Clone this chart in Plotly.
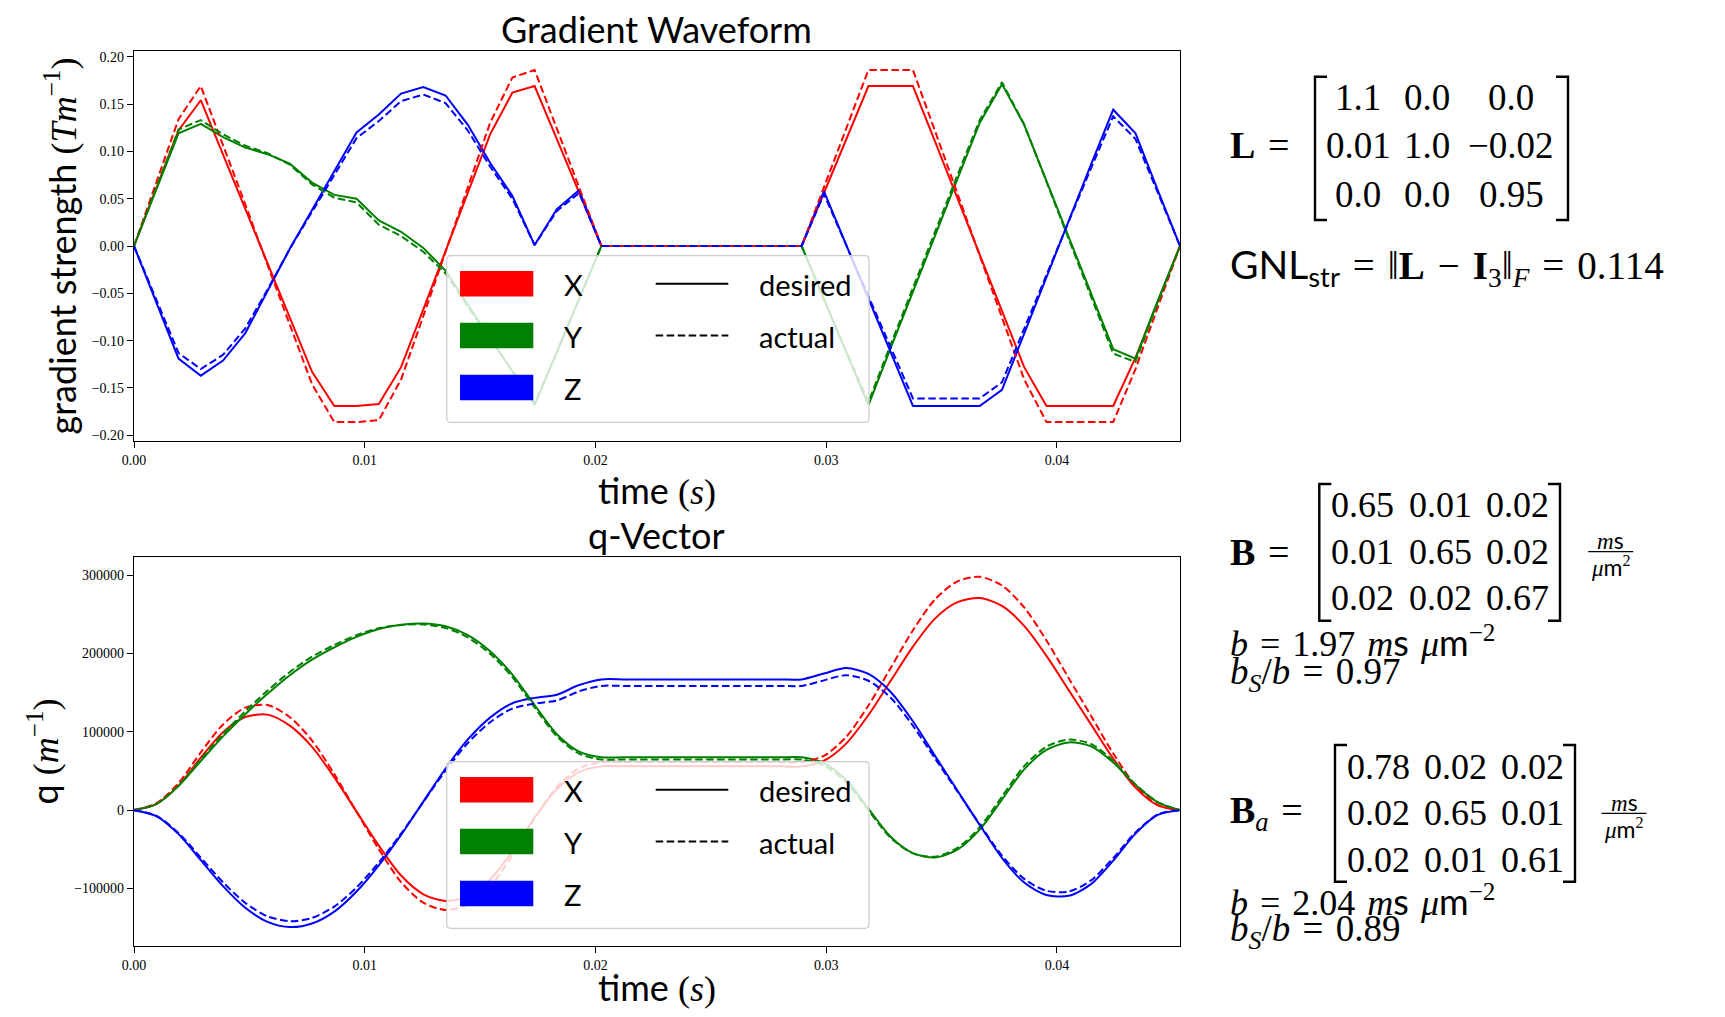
import plotly.graph_objects as go

# ---------------- data ----------------
t = [0.0, 0.000965, 0.001929, 0.002894, 0.003858, 0.004823, 0.005787, 0.006752,
     0.007716, 0.008681, 0.009645, 0.010610, 0.011574, 0.012539, 0.013503, 0.014468,
     0.015432, 0.016397, 0.017361, 0.018326, 0.019290, 0.020255, 0.021219, 0.022184,
     0.023148, 0.024113, 0.025077, 0.026042, 0.027006, 0.027971, 0.028935, 0.029900,
     0.030864, 0.031829, 0.032793, 0.033758, 0.034722, 0.035687, 0.036651, 0.037616,
     0.038580, 0.039545, 0.040509, 0.041474, 0.042438, 0.043403, 0.044367, 0.045332]

gx_desired = [0, 0.060, 0.122, 0.154, 0.097, 0.040, -0.018, -0.076, -0.133, -0.169, -0.169,
              -0.167, -0.128, -0.067, -0.005, 0.057, 0.118, 0.162, 0.169, 0.113, 0.056,
              0, 0, 0, 0, 0, 0, 0, 0, 0, 0,
              0.056, 0.113, 0.169, 0.169, 0.169, 0.110, 0.050, -0.009, -0.069, -0.128,
              -0.169, -0.169, -0.169, -0.169, -0.118, -0.058, 0]
gy_desired = [0, 0.059, 0.119, 0.129, 0.115, 0.104, 0.097, 0.087, 0.067, 0.054, 0.050,
              0.027, 0.015, -0.002, -0.026, -0.062, -0.097, -0.133, -0.168, -0.112, -0.056,
              0, 0, 0, 0, 0, 0, 0, 0, 0, 0,
              -0.056, -0.112, -0.168, -0.108, -0.049, 0.011, 0.071, 0.130, 0.171, 0.128,
              0.069, 0.010, -0.050, -0.109, -0.119, -0.058, 0]
gz_desired = [0, -0.059, -0.119, -0.137, -0.121, -0.092, -0.048, -0.003, 0.038, 0.079, 0.120,
              0.139, 0.161, 0.168, 0.159, 0.128, 0.088, 0.053, 0.001, 0.039, 0.059,
              0, 0, 0, 0, 0, 0, 0, 0, 0, 0,
              0.058, 0.001, -0.056, -0.112, -0.169, -0.169, -0.169, -0.169, -0.152, -0.092,
              -0.033, 0.027, 0.086, 0.144, 0.119, 0.059, 0]
gx_actual = [0, 0.066, 0.134, 0.169, 0.107, 0.044, -0.020, -0.084, -0.146, -0.186, -0.186,
             -0.184, -0.141, -0.074, -0.006, 0.063, 0.130, 0.178, 0.186, 0.124, 0.062,
             0, 0, 0, 0, 0, 0, 0, 0, 0, 0,
             0.062, 0.124, 0.186, 0.186, 0.186, 0.121, 0.055, -0.010, -0.076, -0.141,
             -0.186, -0.186, -0.186, -0.186, -0.130, -0.064, 0]
gy_actual = [0, 0.061, 0.123, 0.133, 0.118, 0.106, 0.098, 0.086, 0.065, 0.051, 0.046,
             0.0225, 0.0105, -0.006, -0.029, -0.064, -0.098, -0.1325, -0.166, -0.112, -0.057,
             0, 0, 0, 0, 0, 0, 0, 0, 0, 0,
             -0.057, -0.111, -0.165, -0.104, -0.044, 0.0155, 0.075, 0.133, 0.173, 0.1285,
             0.068, 0.008, -0.053, -0.1136, -0.1226, -0.060, 0]
gz_actual = [0, -0.056, -0.113, -0.130, -0.115, -0.087, -0.046, -0.003, 0.036, 0.075, 0.114,
             0.132, 0.153, 0.160, 0.151, 0.122, 0.084, 0.050, 0.001, 0.037, 0.056,
             0, 0, 0, 0, 0, 0, 0, 0, 0, 0,
             0.055, 0.001, -0.053, -0.106, -0.161, -0.161, -0.161, -0.161, -0.144, -0.087,
             -0.031, 0.026, 0.082, 0.137, 0.113, 0.056, 0]

qx_desired = [0, 7800, 31300, 67000, 99500, 119000, 122000, 107900, 80800, 41800, -1900,
              -45400, -83600, -107500, -116000, -110000, -88700, -52500, -9700, 26800, 48600,
              55900, 55900, 55900, 55900, 55900, 55900, 55900, 55900, 55900, 55900,
              63100, 85000, 121500, 165200, 208900, 245000, 265700, 271000, 260900, 235400,
              197000, 153300, 109600, 65800, 28700, 6000, 0]
qy_desired = [0, 7600, 30700, 62700, 94300, 122600, 148600, 172400, 192300, 208000, 221400,
              231400, 236800, 238500, 234900, 223500, 203000, 173200, 134300, 97000, 74800,
              67500, 67500, 67500, 67500, 67500, 67500, 67500, 67500, 67500, 67500,
              60000, 38500, 2000, -34000, -55000, -60500, -50500, -25000, 13500, 52000,
              77000, 86500, 81500, 61000, 32000, 10000, 0]
qz_desired = [0, -7600, -30700, -63800, -97100, -124700, -142800, -149400, -144900, -129700, -104000,
              -70500, -31700, 10900, 53200, 90300, 118200, 136500, 143400, 147500, 159800,
              167000, 167000, 167000, 167000, 167000, 167000, 167000, 167000, 167000, 167000,
              174500, 181500, 174000, 151000, 113500, 69000, 25000, -19000, -61000, -92500,
              -108500, -109500, -94500, -64500, -30000, -6000, 0]
qx_actual = [0, 8600, 34400, 73700, 109500, 130900, 134200, 118700, 88900, 46000, -2100,
             -49900, -92000, -118300, -127600, -121000, -97600, -57800, -10700, 29500, 53500,
             61500, 61500, 61500, 61500, 61500, 61500, 61500, 61500, 61500, 61500,
             69400, 93500, 133700, 181700, 229800, 269500, 292300, 298100, 287000, 258900,
             216700, 168600, 120600, 72400, 31600, 6600, 0]
qy_actual = [0, 7800, 31600, 64600, 97200, 126300, 152700, 176500, 196000, 211000, 223500,
             232400, 236600, 237200, 232700, 220600, 199700, 169900, 131300, 94300, 72100,
             64700, 64700, 64700, 64700, 64700, 64700, 64700, 64700, 64700, 64700,
             57100, 35700, -300, -35400, -55200, -59400, -48300, -21900, 17300, 56200,
             81100, 90200, 84500, 63000, 32900, 10200, 0]
qz_actual = [0, -7200, -29200, -60600, -92200, -118500, -135700, -141900, -137700, -123200, -98800,
             -67000, -30100, 10400, 50500, 85800, 112300, 129700, 136200, 140100, 151800,
             158700, 158700, 158700, 158700, 158700, 158700, 158700, 158700, 158700, 158700,
             165800, 172400, 165300, 143500, 107800, 65600, 23800, -18100, -58000, -87900,
             -103100, -104000, -89800, -61300, -28500, -5700, 0]

axis_names = ["X", "Y", "Z"]
axis_colors = ["red", "green", "blue"]
style_names = ["desired", "actual"]

L_matrix = [[1.1, 0.0, 0.0], [0.01, 1.0, -0.02], [0.0, 0.0, 0.95]]
GNL_value = 0.114
B_matrix = [[0.65, 0.01, 0.02], [0.01, 0.65, 0.02], [0.02, 0.02, 0.67]]
B_b, B_ratio = 1.97, 0.97
Ba_matrix = [[0.78, 0.02, 0.02], [0.02, 0.65, 0.01], [0.02, 0.01, 0.61]]
Ba_b, Ba_ratio = 2.04, 0.89

x_ticks = [0.0, 0.01, 0.02, 0.03, 0.04]

# ---------------- layout helpers ----------------
# The page body keeps the browser's default 8px margin, so the figure is made
# 16px smaller and every position below (given in window pixels) is shifted by 8.
OFF = 8
W, H = 1725 - 2 * OFF, 1017 - 2 * OFF
ML, MT = 134 - OFF, 51 - OFF
MR = W - (1180 - OFF)
MB = H - (946 - OFF)
PW = W - ML - MR
PH = H - MT - MB

SANS = "Lato"
SERIF = "Liberation Serif"
SP = "\u2004"  # slightly wider space, like TeX spacing around relations


def px(x):
    return (x - OFF - ML) / PW


def py(y):
    return (H - MB - (y - OFF)) / PH


TOP_AX = (51, 441)
BOT_AX = (557, 946)

fig = go.Figure()

top_des = [gx_desired, gy_desired, gz_desired]
top_act = [gx_actual, gy_actual, gz_actual]
bot_des = [qx_desired, qy_desired, qz_desired]
bot_act = [qx_actual, qy_actual, qz_actual]

DASH = "7.5px,3.5px"
for series, dash in ((top_des, "solid"), (top_act, DASH)):
    for name, col, ys in zip(axis_names, axis_colors, series):
        fig.add_trace(go.Scatter(x=t, y=ys, mode="lines", name=name,
                                 line=dict(color=col, width=2, dash=dash),
                                 showlegend=False, xaxis="x", yaxis="y"))
for series, dash in ((bot_des, "solid"), (bot_act, DASH)):
    for name, col, ys in zip(axis_names, axis_colors, series):
        fig.add_trace(go.Scatter(x=t, y=ys, mode="lines", name=name,
                                 line=dict(color=col, width=2, dash=dash, shape="spline", smoothing=0.8),
                                 showlegend=False, xaxis="x2", yaxis="y2"))

axis_common = dict(showline=True, linecolor="black", linewidth=1.2, mirror=True,
                   ticks="outside", ticklen=6, tickwidth=1.2, tickcolor="black",
                   showgrid=False, zeroline=False, automargin=False,
                   tickfont=dict(family=SERIF, size=14, color="black"))

title_font = dict(family=SANS, size=36, color="black")
xtitle = 'time <span style="font-family:Liberation Serif">(<i>s</i>)</span>'

fig.update_layout(
    width=W, height=H,
    margin=dict(l=ML, r=MR, t=MT, b=MB, pad=0, autoexpand=False),
    paper_bgcolor="white", plot_bgcolor="white",
    showlegend=False,
    font=dict(family=SANS, color="black"),
    xaxis=dict(axis_common, anchor="y", domain=[0, 1], range=[0, t[-1]],
               tickvals=x_ticks, tickformat=".2f",
               title=dict(text=xtitle, font=title_font, standoff=0)),
    yaxis=dict(axis_common, anchor="x", domain=[py(TOP_AX[1]), 1], range=[-0.206, 0.206],
               dtick=0.05, tick0=0, tickformat=".2f",
               title=dict(text='gradient strength <span style="font-family:Liberation Serif">(<i>Tm</i><sup>−1</sup>)</span>',
                          font=title_font, standoff=4)),
    xaxis2=dict(axis_common, anchor="y2", domain=[0, 1], range=[0, t[-1]],
                tickvals=x_ticks, tickformat=".2f",
                title=dict(text=xtitle, font=title_font, standoff=0)),
    yaxis2=dict(axis_common, anchor="x2", domain=[0, py(BOT_AX[0])], range=[-173600, 323400],
                dtick=100000, tick0=0, tickformat="d",
                title=dict(text='q <span style="font-family:Liberation Serif">(<i>m</i><sup>−1</sup>)</span>',
                           font=title_font, standoff=4)),
)

shapes = []
annotations = []


def ann(text, x, y, size, family=SERIF, xanchor="center", yanchor="middle"):
    annotations.append(dict(xref="paper", yref="paper", x=px(x), y=py(y), text=text,
                            showarrow=False, xanchor=xanchor, yanchor=yanchor,
                            font=dict(size=size, family=family, color="black")))


# subplot titles
ann("Gradient Waveform", 656, 29, 36, family=SANS)
ann("q-Vector", 656, 535, 36, family=SANS)


# manual legends
def legend_block(top):
    x0, x1 = 446.7, 869
    y0, y1 = top + 204.7, top + 371.3
    r = 4
    X0, X1, Y0, Y1 = px(x0), px(x1), py(y0), py(y1)
    rx, ry = r / PW, r / PH
    path = (f"M {X0+rx},{Y0} L {X1-rx},{Y0} Q {X1},{Y0} {X1},{Y0-ry} "
            f"L {X1},{Y1+ry} Q {X1},{Y1} {X1-rx},{Y1} L {X0+rx},{Y1} "
            f"Q {X0},{Y1} {X0},{Y1+ry} L {X0},{Y0-ry} Q {X0},{Y0} {X0+rx},{Y0} Z")
    shapes.append(dict(type="path", xref="paper", yref="paper", path=path, layer="above",
                       fillcolor="rgba(255,255,255,0.8)", line=dict(color="#cccccc", width=1.2)))
    rows = [top + 232.8, top + 284.5, top + 336.5]
    for name, col, yc in zip(axis_names, axis_colors, rows):
        shapes.append(dict(type="rect", xref="paper", yref="paper", layer="above",
                           x0=px(460), x1=px(533.3), y0=py(yc - 12.8), y1=py(yc + 12.8),
                           fillcolor=col, line=dict(width=0)))
        ann(name, 561.7, yc + 1, 29, family=SANS, xanchor="left")
    for sname, dash, yc in zip(style_names, ["solid", DASH], rows[:2]):
        shapes.append(dict(type="line", xref="paper", yref="paper", layer="above",
                           x0=px(655.7), x1=px(728.3), y0=py(yc), y1=py(yc),
                           line=dict(color="black", width=2, dash=dash)))
        ann(sname, 756.7, yc + 1, 29, family=SANS, xanchor="left")


legend_block(TOP_AX[0])
legend_block(BOT_AX[0])


def fmt(v):
    return str(v).replace("-", "−")


def bracket(xl, xr, yt, yb, serif=12):
    for xe, s in ((xl, serif), (xr, -serif)):
        path = (f"M {px(xe+s)},{py(yt)} L {px(xe)},{py(yt)} L {px(xe)},{py(yb)} "
                f"L {px(xe+s)},{py(yb)}")
        shapes.append(dict(type="path", xref="paper", yref="paper", path=path,
                           line=dict(color="black", width=2.4)))


def matrix(vals, cols, rows, size=36):
    for r, yc in zip(vals, rows):
        for v, xc in zip(r, cols):
            ann(fmt(v), xc, yc, size)


# L matrix
ann(f"<b>L</b>{SP}={SP}", 1228, 145, 38, xanchor="left")
bracket(1315, 1568, 76.7, 220)
matrix(L_matrix, [1358, 1427, 1511], [97.7, 145, 194.3], size=37)
ann(f'<span style="font-family:Lato">GNL<sub>str</sub></span>{SP}={SP}‖<b>L</b>{SP}−{SP}<b>I</b><sub>3</sub>‖<sub><i>F</i></sub>{SP}={SP}'
    + f"{GNL_value}", 1228, 266.7, 39, xanchor="left")


def unit_frac(xc, ynum, ybar, yden, w=45):
    ann('<i>m</i><span style="font-family:Lato">s</span>', xc, ynum, 23)
    shapes.append(dict(type="line", xref="paper", yref="paper",
                       x0=px(xc - w / 2), x1=px(xc + w / 2), y0=py(ybar), y1=py(ybar),
                       line=dict(color="black", width=1.2)))
    ann('<i>μ</i><span style="font-family:Lato">m</span><sup>2</sup>', xc, yden, 23)


def b_lines(bval, ratio, y1, y2):
    ann(f'<i>b</i>{SP}={SP}{bval}{SP}<i>m</i><span style="font-family:Lato">s</span>{SP}'
        f'<i>μ</i><span style="font-family:Lato">m</span><sup>−2</sup>', 1228, y1, 36, xanchor="left")
    ann(f'<i>b<sub>S</sub></i>/<i>b</i>{SP}={SP}{ratio}', 1228, y2, 37, xanchor="left")


# B matrix
ann(f"<b>B</b>{SP}={SP}", 1228, 551.7, 38, xanchor="left")
bracket(1319.3, 1560, 484, 620.7)
matrix(B_matrix, [1362.3, 1440.7, 1517.3], [505, 551.7, 598.3])
unit_frac(1610.7, 540, 551.7, 566)
b_lines(B_b, B_ratio, 641.7, 674)

# B_a matrix
ann(f"<b>B</b><sub><i>a</i></sub>{SP}={SP}", 1228, 813.3, 38, xanchor="left")
bracket(1335, 1575, 745, 881.7)
matrix(Ba_matrix, [1378.3, 1455, 1532.3], [766.7, 813.3, 860])
unit_frac(1624, 802, 813.3, 828)
b_lines(Ba_b, Ba_ratio, 900, 931)

fig.update_layout(shapes=shapes, annotations=annotations)
fig.write_html("out.html")
